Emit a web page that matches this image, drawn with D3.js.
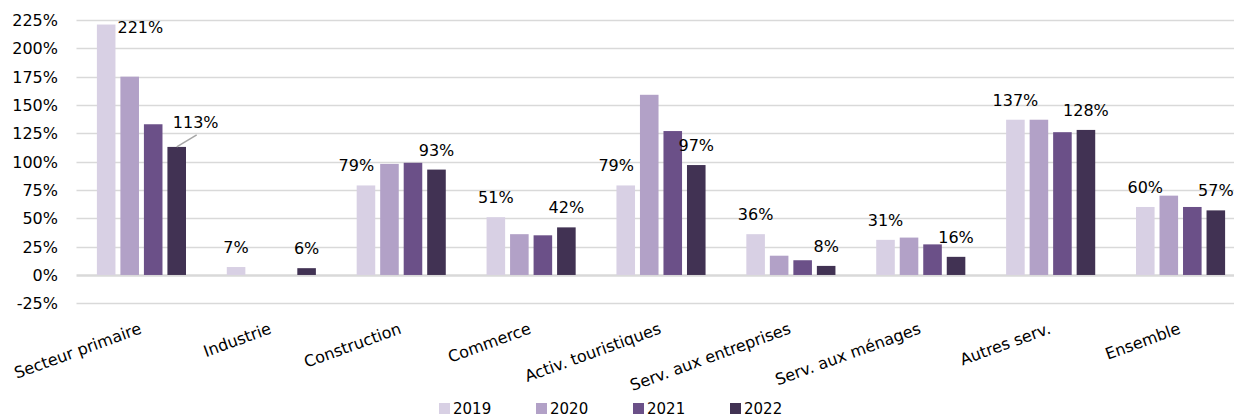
<!DOCTYPE html>
<html>
<head>
<meta charset="utf-8">
<script src="https://cdn.jsdelivr.net/npm/d3@7"></script>
<style>
  body { margin: 0; background: #fff; }
  text { font-family: "DejaVu Sans", Verdana, sans-serif; fill: #000; }
</style>
</head>
<body>
<script>
// data
var categories = ["Secteur primaire", "Industrie", "Construction", "Commerce",
    "Activ. touristiques", "Serv. aux entreprises", "Serv. aux ménages",
    "Autres serv.", "Ensemble"];
var years = ["2019", "2020", "2021", "2022"];
var v2019 = [221, 7, 79, 51, 79, 36, 31, 137, 60];
var v2020 = [175, 0, 98, 36, 159, 17, 33, 137, 70];
var v2021 = [133, 0, 99, 35, 127, 13, 27, 126, 60];
var v2022 = [113, 6, 93, 42, 97, 8, 16, 128, 57];
var yTicks = [-25, 0, 25, 50, 75, 100, 125, 150, 175, 200, 225];

var colors = ["#d8d0e4", "#b2a1c7", "#6b5088", "#413253"];
var series = [v2019, v2020, v2021, v2022];

var W = 1234, H = 418;
var svg = d3.select("body").append("svg")
    .attr("width", W)
    .attr("height", H);

var x0 = d3.scaleBand().domain(categories).range([76.5, 1245.5]).paddingInner(0.276).paddingOuter(0.138);
var x1 = d3.scaleBand().domain(years).range([0, x0.bandwidth()]).paddingInner(0.21).paddingOuter(0.105);
var y = d3.scaleLinear().domain([-25, 225]).range([303.3, 20]);

var fmt = function(v) { return d3.format(".0f")(v) + "%"; };

// gridlines
svg.append("g").selectAll("line")
    .data(yTicks)
    .enter()
    .append("line")
    .attr("x1", 76.5)
    .attr("x2", W)
    .attr("y1", function(d) { return Math.round(y(d)) + 0.5; })
    .attr("y2", function(d) { return Math.round(y(d)) + 0.5; })
    .attr("stroke", "#d9d9d9")
    .attr("stroke-width", function(d) { return d == 0 ? 2.5 : 1.5; });

// y axis labels
svg.append("g").selectAll("text")
    .data(yTicks)
    .enter()
    .append("text")
    .attr("x", 58)
    .attr("y", function(d) { return y(d) + 6; })
    .attr("text-anchor", "end")
    .style("font-size", "16px")
    .text(function(d) { return d + "%"; });

// bars
var rows = [];
categories.forEach(function(c, i) {
    years.forEach(function(yr, j) {
        rows.push({cat: c, i: i, year: yr, j: j, value: series[j][i]});
    });
});

svg.append("g").selectAll("rect")
    .data(rows.filter(function(d) { return d.value != 0; }))
    .enter()
    .append("rect")
    .attr("x", function(d) { return x0(d.cat) + x1(d.year); })
    .attr("y", function(d) { return y(Math.max(d.value, 0)); })
    .attr("width", x1.bandwidth())
    .attr("height", function(d) { return Math.abs(y(d.value) - y(0)); })
    .style("fill", function(d) { return colors[d.j]; });

// value labels on 2019 and 2022
var labels = svg.append("g");
var gap = 14;
categories.forEach(function(c, i) {
    var bx19 = x0(c) + x1("2019"), bx22 = x0(c) + x1("2022");
    var bw = x1.bandwidth();
    if (i == 0) {
        // top bar: label to the right of the bar
        labels.append("text")
            .attr("x", bx19 + bw + 2)
            .attr("y", y(v2019[i]) + 8)
            .style("font-size", "16px")
            .text(fmt(v2019[i]));
        // 2022 label pushed up with a leader line
        labels.append("text")
            .attr("x", bx22 + bw / 2 + 19)
            .attr("y", y(v2022[i]) - 19)
            .attr("text-anchor", "middle")
            .style("font-size", "16px")
            .text(fmt(v2022[i]));
        labels.append("line")
            .attr("x1", bx22 + bw / 2)
            .attr("y1", y(v2022[i]))
            .attr("x2", bx22 + bw / 2 + 20)
            .attr("y2", y(v2022[i]) - 12)
            .attr("stroke", "#a6a6a6")
            .attr("stroke-width", 1.5);
        return;
    }
    var t19 = labels.append("text")
        .attr("x", bx19 + bw / 2)
        .attr("y", y(v2019[i]) - gap)
        .attr("text-anchor", "middle")
        .style("font-size", "16px")
        .text(fmt(v2019[i]));
    // shift left when the 2020 bar would run into the label
    if (y(v2020[i]) < y(v2019[i]) - gap) {
        var len = t19.node().getComputedTextLength();
        var nextLeft = x0(c) + x1("2020");
        t19.attr("x", nextLeft - 6 - len / 2);
    }
    labels.append("text")
        .attr("x", bx22 + bw / 2)
        .attr("y", y(v2022[i]) - gap)
        .attr("text-anchor", "middle")
        .style("font-size", "16px")
        .text(fmt(v2022[i]));
});

// category labels, rotated
svg.append("g").selectAll("text")
    .data(categories)
    .enter()
    .append("text")
    .attr("transform", function(d) {
        return "translate(" + (x0(d) + x0.bandwidth() / 2 + 1) + ",333) rotate(-20)";
    })
    .attr("text-anchor", "end")
    .style("font-size", "16px")
    .text(function(d) { return d; });

// legend
var legend = svg.append("g").selectAll("g")
    .data(years)
    .enter()
    .append("g")
    .attr("transform", function(d, i) { return "translate(" + (439 + i * 97) + ",0)"; });

legend.append("rect")
    .attr("x", 0)
    .attr("y", 403)
    .attr("width", 11)
    .attr("height", 11)
    .style("fill", function(d, i) { return colors[i]; });

legend.append("text")
    .attr("x", 14)
    .attr("y", 414)
    .style("font-size", "15px")
    .text(function(d) { return d; });
</script>
</body>
</html>
